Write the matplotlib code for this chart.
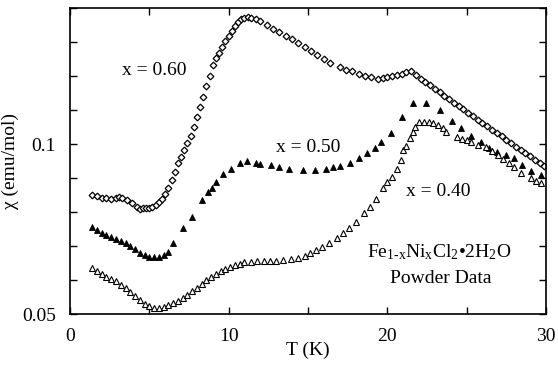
import numpy as np
import matplotlib
matplotlib.use("Agg")
import matplotlib.pyplot as plt
from matplotlib.ticker import FixedLocator, NullFormatter

# ---------------------------------------------------------------------
# Data (T in K, chi in emu/mol)
# ---------------------------------------------------------------------

t_060 = [1.4, 1.7, 2.0, 2.3, 2.6, 2.9, 3.1, 3.3, 3.6, 3.9, 4.2, 4.4, 4.6, 4.8,
         5.0, 5.2, 5.4, 5.6, 5.8, 6.0, 6.2, 6.4, 6.6, 6.8, 7.0, 7.2, 7.4, 7.6,
         7.8, 8.0, 8.2, 8.4, 8.6, 8.8, 9.0, 9.2, 9.4, 9.6, 9.8, 10.0, 10.2,
         10.4, 10.6, 10.8, 11.0, 11.2, 11.4, 11.7, 12.0, 12.4, 12.8, 13.2,
         13.6, 14.0, 14.4, 14.8, 15.2, 15.6, 16.0, 16.4, 17.0, 17.4, 17.8,
         18.2, 18.6, 19.0, 19.4, 19.7, 20.0, 20.3, 20.6, 20.9, 21.2, 21.5,
         21.8, 22.1, 22.4, 22.7, 23.0, 23.3, 23.6, 23.9, 24.2, 24.5, 24.8,
         25.1, 25.4, 25.7, 26.0, 26.3, 26.6, 26.9, 27.2, 27.5, 27.8, 28.1,
         28.4, 28.7, 29.0, 29.3, 29.6, 29.9]
chi_060 = [0.0812, 0.0808, 0.0804, 0.0801, 0.0799, 0.0801, 0.0805, 0.0802,
           0.0795, 0.0786, 0.0775, 0.0768, 0.0772, 0.0772, 0.0771, 0.0774,
           0.0780, 0.0788, 0.0800, 0.0815, 0.0835, 0.0865, 0.0893, 0.0925,
           0.0950, 0.0975, 0.1005, 0.1035, 0.1070, 0.1115, 0.1165, 0.1210,
           0.1265, 0.1320, 0.1380, 0.1420, 0.1450, 0.1485, 0.1520, 0.1555,
           0.1585, 0.1620, 0.1645, 0.1665, 0.1675, 0.1678, 0.1675, 0.1665,
           0.1650, 0.1625, 0.1600, 0.1578, 0.1555, 0.1532, 0.1508, 0.1485,
           0.1462, 0.1440, 0.1415, 0.1390, 0.1372, 0.1355, 0.1345, 0.1332,
           0.1320, 0.1312, 0.1305, 0.1307, 0.1312, 0.1318, 0.1323, 0.1332,
           0.1342, 0.1345, 0.1325, 0.1305, 0.1288, 0.1270, 0.1253, 0.1236,
           0.1218, 0.1200, 0.1183, 0.1168, 0.1152, 0.1136, 0.1120, 0.1105,
           0.1090, 0.1075, 0.1061, 0.1047, 0.1032, 0.1018, 0.1004, 0.0990,
           0.0977, 0.0964, 0.0951, 0.0938, 0.0925, 0.0913]

t_050 = [1.4, 1.7, 2.0, 2.3, 2.6, 2.9, 3.2, 3.5, 3.8, 4.1, 4.4, 4.7, 5.0,
         5.3, 5.6, 5.9, 6.2, 6.5, 7.13, 7.72, 8.3, 8.7, 8.97, 9.22, 9.64,
         10.17, 10.69, 11.15, 11.74, 11.95, 12.68, 13.17, 13.8, 14.68, 15.47,
         16.14, 16.56, 17.0, 17.65, 18.2, 18.72, 19.2, 19.6, 20.25, 20.9,
         21.6, 22.45, 23.3, 24.1, 24.65, 25.3, 25.9, 26.4, 26.9, 27.5, 28.0,
         28.5, 29.05, 29.7]
chi_050 = [0.0713, 0.0705, 0.0697, 0.0690, 0.0684, 0.0679, 0.0674, 0.0668,
           0.0660, 0.0651, 0.0642, 0.0635, 0.0631, 0.0630, 0.0632, 0.0637,
           0.0645, 0.0668, 0.0710, 0.0743, 0.0796, 0.0824, 0.0835, 0.0858,
           0.0884, 0.0905, 0.0927, 0.0935, 0.0927, 0.0922, 0.0918, 0.0912,
           0.0903, 0.0898, 0.0898, 0.0903, 0.0911, 0.0916, 0.0927, 0.0943,
           0.0963, 0.0983, 0.1009, 0.1045, 0.1117, 0.1180, 0.1180, 0.1149,
           0.1100, 0.1068, 0.1035, 0.1009, 0.0985, 0.0970, 0.0955, 0.0943,
           0.0920, 0.0895, 0.0882]

t_040 = [1.4, 1.7, 2.0, 2.3, 2.6, 2.9, 3.2, 3.5, 3.8, 4.1, 4.4, 4.7, 5.0,
         5.3, 5.6, 5.9, 6.2, 6.5, 6.8, 7.1, 7.4, 7.7, 8.0, 8.3, 8.6, 8.9,
         9.2, 9.5, 9.8, 10.1, 10.4, 10.7, 11.0, 11.4, 11.8, 12.2, 12.6, 13.0,
         13.4, 13.9, 14.4, 14.8, 15.1, 15.5, 15.9, 16.3, 16.8, 17.2, 17.6,
         18.05, 18.55, 18.9, 19.3, 19.7, 20.0, 20.3, 20.6, 20.86, 21.0,
         21.15, 21.4, 21.6, 21.75, 22.0, 22.3, 22.6, 22.9, 23.2, 23.5, 23.7,
         24.4, 24.7, 25.0, 25.3, 25.7, 26.2, 26.6, 27.0, 27.3, 27.7, 28.0,
         28.4, 29.05, 29.4, 29.7]
chi_040 = [0.0603, 0.0595, 0.0588, 0.0582, 0.0577, 0.0571, 0.0563, 0.0555,
           0.0547, 0.0538, 0.0529, 0.0521, 0.0516, 0.0513, 0.0512, 0.0514,
           0.0518, 0.0522, 0.0527, 0.0533, 0.0540, 0.0549, 0.0557, 0.0565,
           0.0574, 0.0582, 0.0589, 0.0595, 0.0601, 0.0606, 0.0610, 0.0614,
           0.0617, 0.0619, 0.0620, 0.0620, 0.0620, 0.0621, 0.0622, 0.0625,
           0.0629, 0.0634, 0.0640, 0.0648, 0.0657, 0.0667, 0.0682, 0.0695,
           0.0710, 0.0727, 0.0755, 0.0775, 0.0800, 0.0835, 0.0855, 0.0875,
           0.0905, 0.0937, 0.0975, 0.0991, 0.1026, 0.1050, 0.1070, 0.1094,
           0.1094, 0.1092, 0.1088, 0.1080, 0.1068, 0.1050, 0.1030, 0.1022,
           0.1015, 0.1009, 0.0998, 0.0988, 0.0972, 0.0955, 0.0940, 0.0926,
           0.0910, 0.0889, 0.0871, 0.0860, 0.0852]

x_ticks = [0, 10, 20, 30]
x_minor = [5, 15, 25]
y_ticks = [0.05, 0.1]
y_tick_labels = ["0.05", "0.1"]
y_minor = [0.05 * 2 ** (k / 5) for k in range(1, 10) if k != 5]

# ---------------------------------------------------------------------
# Plot
# ---------------------------------------------------------------------

plt.rcParams["font.family"] = ["Liberation Serif", "DejaVu Serif"]
plt.rcParams["mathtext.fontset"] = "custom"
plt.rcParams["mathtext.rm"] = "Liberation Serif"
plt.rcParams["mathtext.it"] = "Liberation Serif:italic"

fig = plt.figure(figsize=(5.58, 3.69), dpi=100)
ax = fig.add_axes([0.1254, 0.149, 0.853, 0.829])

ax.plot(t_060, chi_060, linestyle="none", marker="D", markersize=3.4,
        markerfacecolor="white", markeredgecolor="black", markeredgewidth=0.9)
ax.plot(t_050, chi_050, linestyle="none", marker="^", markersize=5.0,
        markerfacecolor="black", markeredgecolor="black", markeredgewidth=0.6)
ax.plot(t_040, chi_040, linestyle="none", marker="^", markersize=4.6,
        markerfacecolor="white", markeredgecolor="black", markeredgewidth=0.8)

ax.set_yscale("log")
ax.set_xlim(0, 30)
ax.set_ylim(0.05, 0.05 * 2 ** (9 / 5))

ax.xaxis.set_major_locator(FixedLocator(x_ticks))
ax.xaxis.set_minor_locator(FixedLocator(x_minor))
ax.yaxis.set_major_locator(FixedLocator(y_ticks))
ax.yaxis.set_minor_locator(FixedLocator(y_minor))
ax.yaxis.set_minor_formatter(NullFormatter())
ax.set_yticklabels(y_tick_labels)

ax.tick_params(which="both", direction="in", top=True, right=True,
               length=5, width=1, labelsize=14)
ax.tick_params(axis="x", pad=10)
ax.tick_params(axis="y", pad=10)
for s in ax.spines.values():
    s.set_linewidth(1.2)

ax.set_xlabel("T (K)", fontsize=14, labelpad=-2)
ax.set_ylabel("χ (emu/mol)", fontsize=14, labelpad=2)

ax.text(5.3, 0.1349, "x = 0.60", fontsize=14, ha="center", va="center")
ax.text(15.0, 0.0987, "x = 0.50", fontsize=14, ha="center", va="center")
ax.text(23.2, 0.0823, "x = 0.40", fontsize=14, ha="center", va="center")
ax.text(23.3, 0.0644, r"Fe$_{\mathrm{1\text{-}x}}$Ni$_{\mathrm{x}}$Cl$_{\mathrm{2}}$•2H$_{\mathrm{2}}$O",
        fontsize=14, ha="center", va="center")
ax.text(23.4, 0.0579, "Powder Data", fontsize=14, ha="center", va="center")

fig.savefig("out.png", dpi=100)
